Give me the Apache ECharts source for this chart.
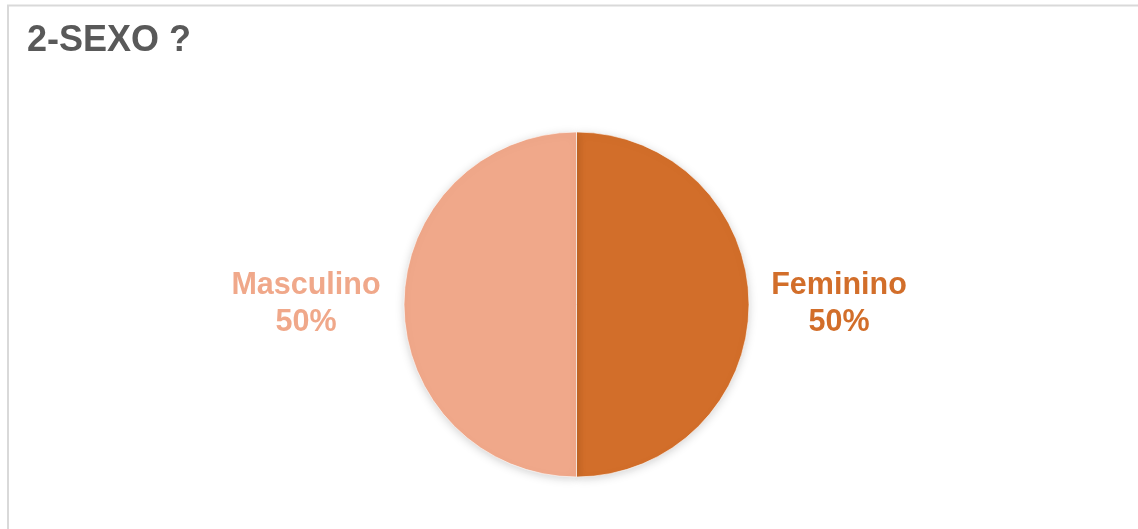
<!DOCTYPE html>
<html>
<head>
<meta charset="utf-8">
<style>
html,body{margin:0;padding:0;background:#fff;}
#chart{width:1138px;height:529px;}
</style>
<script src="https://cdn.jsdelivr.net/npm/echarts@6/dist/echarts.min.js"></script>
</head>
<body>
<div id="chart"></div>
<script>
const titleText = '2-SEXO ?';
const categories = ['Feminino', 'Masculino'];
const values = [50, 50];
const colors = ['#D26E2A', '#F0A88A'];
const labelWidths = [138, 154];

const chart = echarts.init(document.getElementById('chart'));
const data = categories.map((c, i) => ({
  name: c,
  value: values[i],
  itemStyle: { color: colors[i] },
  label: {
    color: colors[i],
    rich: { a: { width: labelWidths[i], align: 'center', color: colors[i], fontSize: 30.5, fontWeight: 'bold', fontFamily: 'Liberation Sans', lineHeight: 37 } }
  }
}));
chart.setOption({
  animation: false,
  title: {
    text: titleText,
    left: 22,
    top: 18,
    textStyle: { fontFamily: 'Liberation Sans', fontWeight: 'bold', fontSize: 36, color: '#595959' }
  },
  graphic: [{
    type: 'rect',
    shape: { x: 8, y: 5.5, width: 1300, height: 700 },
    style: { fill: 'none', stroke: '#d9d9d9', lineWidth: 2 }
  }],
  series: [{
    type: 'pie',
    center: [576.5, 304.5],
    radius: 172.5,
    startAngle: 90,
    clockwise: true,
    data: data,
    itemStyle: { borderColor: '#fff', borderWidth: 0.6, shadowBlur: 10, shadowColor: 'rgba(0,0,0,0.18)', shadowOffsetY: 2 },
    label: {
      show: true,
      position: 'outside',
      formatter: '{a|{b}}\n{a|{d}%}',
      distanceToLabelLine: 21
    },
    labelLine: { show: false, length: 0, length2: 0 },
    emphasis: { disabled: true }
  }]
});
</script>
</body>
</html>
